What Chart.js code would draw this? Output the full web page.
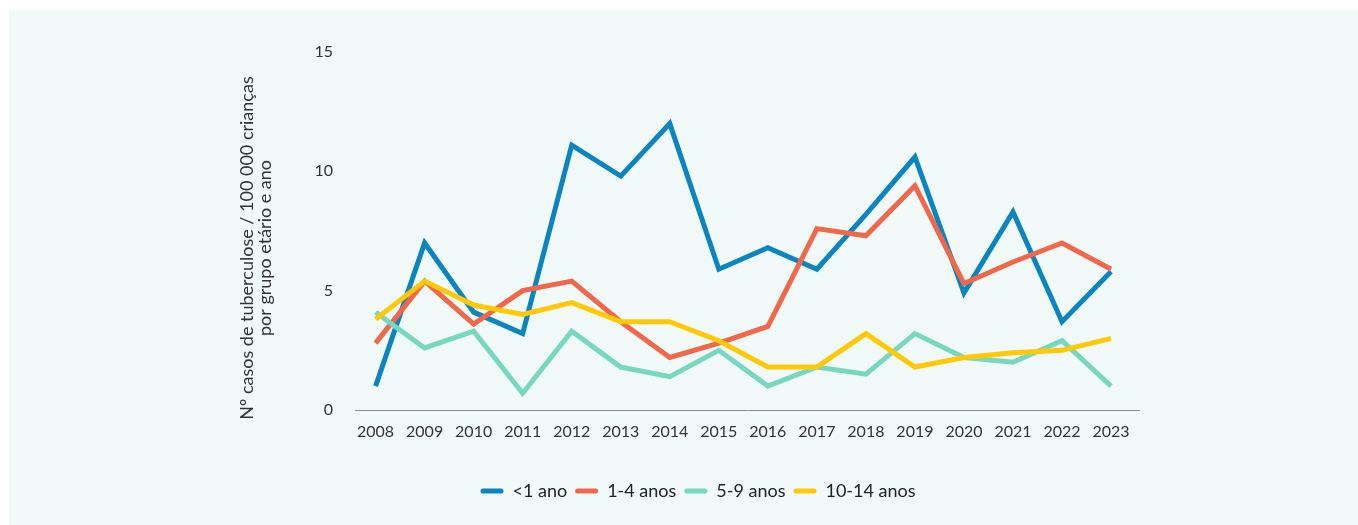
<!DOCTYPE html>
<html lang="pt">
<head>
<meta charset="utf-8">
<script src="https://cdn.jsdelivr.net/npm/chart.js@4/dist/chart.umd.min.js"></script>
<style>
  html, body { margin: 0; padding: 0; background: #fff; }
  #fundo { position: absolute; left: 9px; top: 10px; right: 0; bottom: 0; background: #f1faf8; }
  #caixa { position: absolute; left: 0; top: 0; width: 1358px; height: 525px; }
</style>
</head>
<body>
<div id="fundo"></div>
<div id="caixa"><canvas id="grafico"></canvas></div>
<script>
// dados
const anos = [2008, 2009, 2010, 2011, 2012, 2013, 2014, 2015, 2016, 2017, 2018, 2019, 2020, 2021, 2022, 2023];
const menos1ano = [1.0, 7.0, 4.1, 3.2, 11.1, 9.8, 12.0, 5.9, 6.8, 5.9, 8.2, 10.6, 4.9, 8.3, 3.7, 5.8];
const de1a4 = [2.8, 5.4, 3.6, 5.0, 5.4, 3.7, 2.2, 2.8, 3.5, 7.6, 7.3, 9.4, 5.3, 6.2, 7.0, 5.9];
const de5a9 = [4.1, 2.6, 3.3, 0.7, 3.3, 1.8, 1.4, 2.5, 1.0, 1.8, 1.5, 3.2, 2.2, 2.0, 2.9, 1.0];
const de10a14 = [3.8, 5.4, 4.4, 4.0, 4.5, 3.7, 3.7, 2.9, 1.8, 1.8, 3.2, 1.8, 2.2, 2.4, 2.5, 3.0];
const series = ['<1 ano', '1-4 anos', '5-9 anos', '10-14 anos'];
const cores = ['#0a85c2', '#f2664a', '#77d7bf', '#ffc905'];
const ticksY = [0, 5, 10, 15];
const tituloY = ['Nº casos de tuberculose / 100 000 crianças', 'por grupo etário e ano'];

const fonte = 'Lato, "Open Sans", sans-serif';

function pontos(valores) {
  return anos.map((a, i) => ({x: a, y: valores[i]}));
}

function serie(i, valores) {
  return {
    label: series[i],
    data: pontos(valores),
    borderColor: cores[i],
    backgroundColor: cores[i],
    borderWidth: 5,
    pointRadius: 0,
    pointHoverRadius: 0,
    tension: 0,
    order: 4 - i
  };
}

// titulo do eixo y desenhado à mão para ficar centrado como no original
const tituloEixo = {
  id: 'tituloEixo',
  afterDraw(chart) {
    const c = chart.ctx;
    c.save();
    c.translate(256, 248);
    c.rotate(-Math.PI / 2);
    c.font = '18px ' + fonte;
    c.fillStyle = '#333';
    c.textAlign = 'center';
    c.textBaseline = 'middle';
    c.fillText(tituloY[0], 0, -9);
    c.fillText(tituloY[1], 0, 9);
    c.restore();
  }
};

const config = {
  type: 'line',
  data: {
    datasets: [
      serie(0, menos1ano),
      serie(1, de1a4),
      serie(2, de5a9),
      serie(3, de10a14)
    ]
  },
  options: {
    responsive: true,
    maintainAspectRatio: false,
    animation: false,
    layout: { padding: { top: 52, left: 38, right: 0, bottom: 15 } },
    plugins: {
      tooltip: { enabled: false },
      legend: {
        position: 'bottom',
        labels: {
          boxWidth: 23,
          boxHeight: 5,
          useBorderRadius: true,
          borderRadius: 2.5,
          padding: 8,
          color: '#222',
          font: { family: fonte, size: 18 },
          sort: (a, b) => a.datasetIndex - b.datasetIndex,
          generateLabels: chart => {
            const itens = Chart.defaults.plugins.legend.labels.generateLabels(chart);
            itens.forEach(it => { it.lineWidth = 0; });
            return itens;
          }
        }
      }
    },
    scales: {
      x: {
        type: 'linear',
        min: 2007.58,
        max: 2023.57,
        grid: { display: false, drawTicks: false },
        border: { display: true, color: '#8c8c8c', width: 1 },
        ticks: {
          stepSize: 1,
          includeBounds: false,
          autoSkip: false,
          maxRotation: 0,
          padding: 12,
          color: '#333',
          font: { family: fonte, size: 16 },
          callback: v => String(v)
        },
        afterFit: s => { s.height = 64; }
      },
      y: {
        min: 0,
        max: 15,
        grid: { display: false, drawTicks: false },
        border: { display: false },
        afterBuildTicks: s => { s.ticks = ticksY.map(v => ({value: v})); },
        ticks: {
          padding: 22,
          color: '#333',
          font: { family: fonte, size: 16 }
        },
        afterFit: s => { s.width = 317; }
      },
      direita: {
        position: 'right',
        display: true,
        grid: { display: false, drawTicks: false },
        border: { display: false },
        ticks: { display: false },
        afterFit: s => { s.width = 219; }
      }
    }
  },
  plugins: [tituloEixo]
};

const grafico = new Chart(document.getElementById('grafico'), config);
</script>
</body>
</html>
